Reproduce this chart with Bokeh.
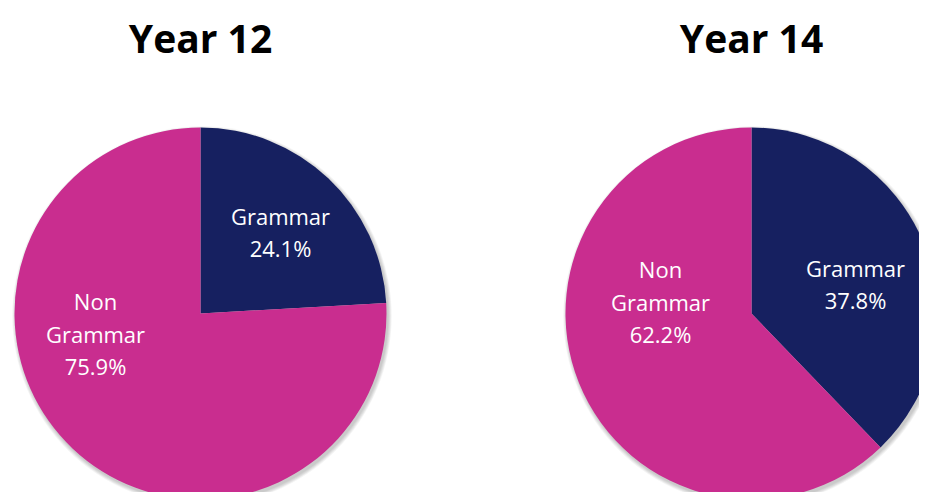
import math
from bokeh.plotting import figure
from bokeh.models import Range1d, ColumnDataSource
from bokeh.core.properties import value
from bokeh.embed import file_html
from bokeh.resources import INLINE

# ---------------- data ----------------
titles = ["Year 12", "Year 14"]
categories = ["Grammar", "Non Grammar"]
year12_pct = [24.1, 75.9]
year14_pct = [37.8, 62.2]
series = [year12_pct, year14_pct]
colors = ["#162060", "#c92d8f"]

# ---------------- layout (screen-pixel style values) ----------------
W, H = 919, 492
centers = [(200, 179), (751, 179)]   # pie centres in plot units (1 unit = 1 px)
radius = 186
title_y = 455
line_gap = 32.5
# label block centre offsets from pie centre (dx, dy), per pie per slice
label_offsets = [[(80, 81.5), (-105, -20)], [(104, 29.5), (-91, 12)]]

p = figure(width=W, height=H, x_range=Range1d(0, W), y_range=Range1d(0, H),
           output_backend="svg", toolbar_location=None, min_border=0)
p.axis.visible = False
p.grid.visible = False
p.outline_line_color = None
p.background_fill_color = "white"
p.border_fill_color = "white"

font = value("Open Sans")

for i, (cx, cy) in enumerate(centers):
    vals = series[i]
    total = sum(vals)
    # soft shadow
    for k in range(5):
        p.circle(x=[cx + 1.5], y=[cy - 2.5], radius=radius + 0.5 + k * 0.8,
                 fill_color="#000000", fill_alpha=0.045, line_color=None)
    starts, ends = [], []
    ang = math.pi / 2
    for v in vals:
        a1 = ang - v / total * 2 * math.pi
        starts.append(a1)
        ends.append(ang)
        ang = a1
    src = ColumnDataSource(dict(x=[cx] * len(vals), y=[cy] * len(vals),
                                start=starts, end=ends, color=colors))
    p.wedge(x="x", y="y", radius=radius, start_angle="start", end_angle="end",
            fill_color="color", line_color=None, source=src)

    # title
    p.text(x=[cx], y=[title_y], text=[titles[i]], text_font=font,
           text_font_style="bold", text_font_size="39px", text_color="black",
           text_align="center", text_baseline="middle")

    # labels
    for j, cat in enumerate(categories):
        lines = cat.split(" ") + ["%.1f%%" % vals[j]]
        dx, dy = label_offsets[i][j]
        n = len(lines)
        for k, ln in enumerate(lines):
            yy = cy + dy + ((n - 1) / 2 - k) * line_gap
            p.text(x=[cx + dx], y=[yy], text=[ln], text_font=font,
                   text_font_size="22px", text_color="white",
                   text_align="center", text_baseline="middle")

open("out.html", "w").write(file_html(p, INLINE))
